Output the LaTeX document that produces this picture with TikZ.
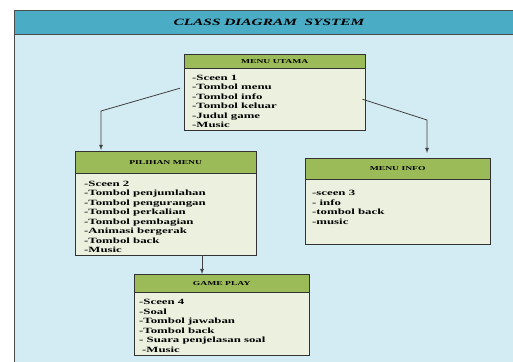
\documentclass[tikz,border=0pt]{standalone}
\usepackage{fontspec}
\setmainfont[FakeStretch=1.6]{Liberation Serif}
\usepackage{tikz}
\usetikzlibrary{arrows,shapes}
\usetikzlibrary{positioning}
\usetikzlibrary{calc}
\definecolor{bandblue}{HTML}{4BACC6}
\definecolor{paleblue}{HTML}{D3EBF2}
\definecolor{headgreen}{HTML}{9BBB59}
\definecolor{palegreen}{HTML}{EBF1DE}
\tikzstyle{classhead}=[rectangle,draw=black!80,fill=headgreen,anchor=north west,inner sep=0pt,font=\fontsize{6}{7}\selectfont\bfseries]
\tikzstyle{classbody}=[rectangle,draw=black!80,fill=palegreen,anchor=north west,inner sep=0pt]
\tikzstyle{members}=[anchor=north west,align=left,inner sep=0pt,font=\fontsize{8}{9.5}\selectfont\bfseries]
\tikzstyle{edge} = [draw,line width=0.8pt,black!75,-latex]
\tikzset{band/.style={rectangle,fill=bandblue,draw=black!70,line width=0.9pt,inner sep=0pt,font=\fontsize{9.6}{12}\selectfont\bfseries\itshape}}

\begin{document}
\begin{tikzpicture}[x=1pt,y=-1pt]
    \useasboundingbox (0,0) rectangle (513,361);
    % frame and title band
    \path[fill=paleblue,draw=black!70,line width=0.9pt] (14,10) rectangle (530,380);
    \node[band,minimum width=510,minimum height=24] (title) at (269,22) {CLASS DIAGRAM\ \ SYSTEM};

    % First we draw the classes
    \foreach \name/\x/\top/\mid/\bot/\w/\title in {utama/184/54/68/130/181/MENU UTAMA,
    pilihan/75/151/173/255/181/PILIHAN MENU, info/305/158/179/244/185/MENU INFO,
    game/134/274/292/355/175/GAME PLAY}
    {
        \node[classhead,minimum width=\w,minimum height=\mid-\top] (\name H) at (\x,\top) {\title};
        \node[classbody,minimum width=\w,minimum height=\bot-\mid] (\name B) at (\x,\mid) {};
    }

    % Then the attributes of each class
    \foreach \name/\dx/\dy/\list in {
    {utama/8/7/{-Sceen 1\\-Tombol menu\\-Tombol info\\-Tombol keluar\\-Judul game\\-Music}},
    {pilihan/9/7.5/{-Sceen 2\\-Tombol penjumlahan\\-Tombol pengurangan\\-Tombol perkalian\\-Tombol pembagian\\-Animasi bergerak\\-Tombol back\\-Music}},
    {info/7/11/{-sceen 3\\- info\\-tombol back\\-music}},
    {game/5/7/{-Sceen 4\\-Soal\\-Tombol jawaban\\-Tombol back\\- Suara penjelasan soal\\\hspace*{3pt}-Music}}}
        \node[members] (\name T) at ($(\name B.north west)+(\dx,\dy)$) {\list};

    % Connect classes with arrows
    \coordinate (bendL) at (101,111);
    \coordinate (bendR) at (427,120);
    \coordinate (downX) at (202,0);
    \path[edge] ([xshift=-4pt,yshift=11pt]utamaB.west) -- (bendL) -- ([yshift=1pt]pilihanH.north -| bendL);
    \path[edge] ([xshift=-3pt]utamaB.east) -- (bendR) -- ([yshift=5pt]infoH.north -| bendR);
    \path[edge] (pilihanB.south -| downX) -- (gameH.north -| downX);
\end{tikzpicture}
\end{document}
